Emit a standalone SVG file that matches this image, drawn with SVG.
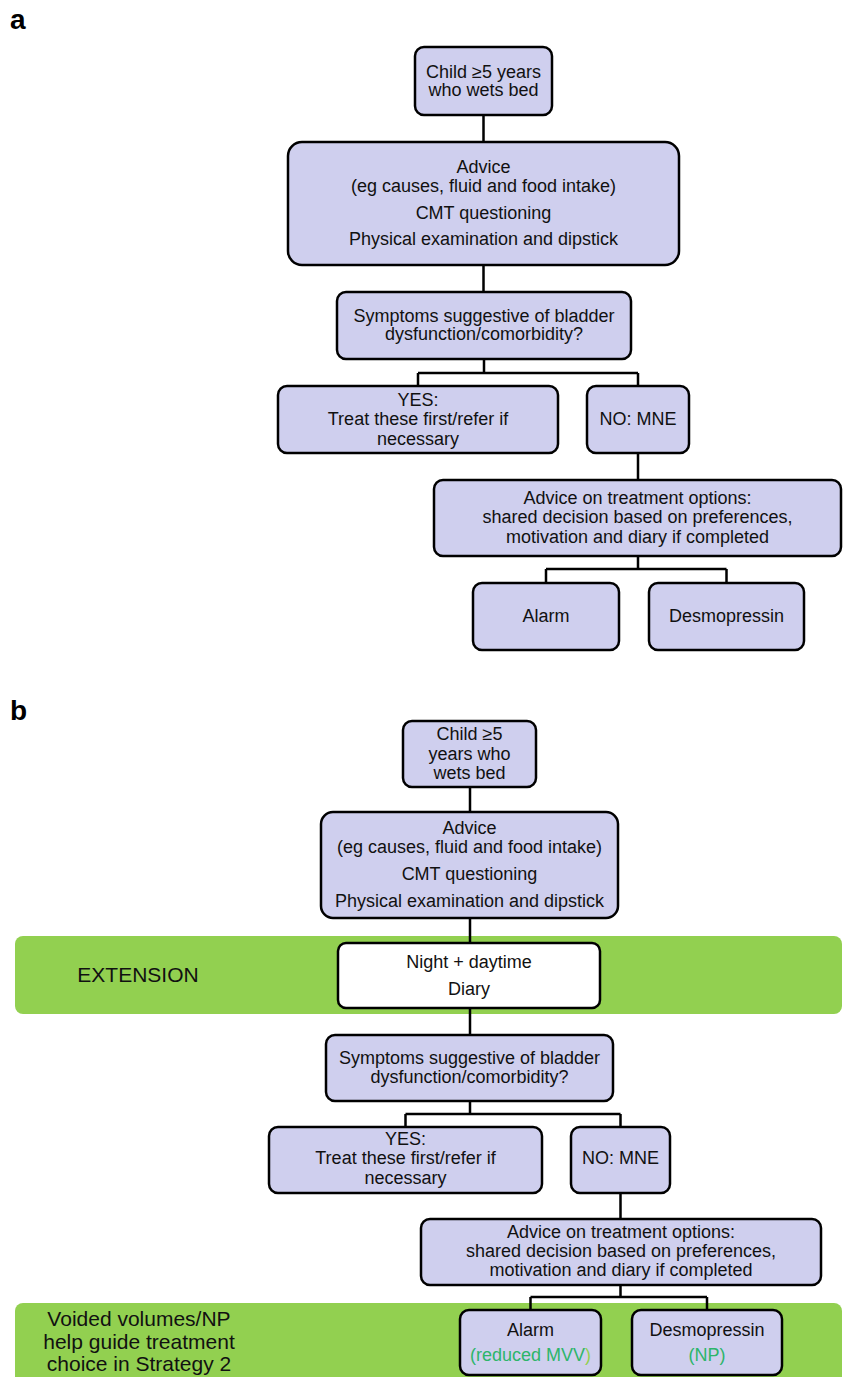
<svg xmlns="http://www.w3.org/2000/svg" width="843" height="1377" viewBox="0 0 843 1377">
<style>
.bx{fill:#cfcfee;stroke:#000;stroke-width:2.5}
.wb{fill:#fff;stroke:#000;stroke-width:2.5}
.band{fill:#92d050}
.t{font-family:"Liberation Sans",Arial,sans-serif;font-size:18px;fill:#111;text-anchor:middle}
.lbl{font-family:"Liberation Sans",Arial,sans-serif;font-size:21px;fill:#111;text-anchor:middle}
.pl{font-family:"Liberation Sans",Arial,sans-serif;font-size:28px;font-weight:bold;fill:#000}
.g{fill:#2db56a}
.lg{fill:#92d050}
.c{fill:none;stroke:#000;stroke-width:2.5}
</style>
<rect width="843" height="1377" fill="#fff"/>
<text class="pl" x="10" y="29">a</text>
<text class="pl" x="10" y="720">b</text>
<g id="bands">
<rect class="band" x="15" y="936" width="827" height="78" rx="8"/>
<rect class="band" x="15" y="1303" width="827" height="84" rx="8"/>
<text class="lbl" x="138" y="982">EXTENSION</text>
<text class="lbl" x="139" y="1326">Voided volumes/NP</text>
<text class="lbl" x="139" y="1349">help guide treatment</text>
<text class="lbl" x="139" y="1371">choice in Strategy 2</text>
</g>
<g id="connectors">
<path class="c" d="M483.5 115V142M483.5 265V292M484 359V373M418 373H638M418 373V386M638 373V386M638 453V480M638 556V569M546 569H726.5M546 569V583M726.5 569V583"/>
<path class="c" d="M470 787V812M470 918V943M470 1008V1035M470 1101V1114M405.5 1114H620.5M405.5 1114V1127M620.5 1114V1127M620.5 1193V1219M620.5 1285V1297M530.5 1297H707M530.5 1297V1310M707 1297V1310"/>
</g>
<g id="a_child"><rect class="bx" x="415" y="47" width="137" height="68" rx="9"/>
<text class="t" x="483.5" y="78">Child ≥5 years</text><text class="t" x="483.5" y="96">who wets bed</text></g>
<g id="a_advice"><rect class="bx" x="288" y="142" width="391" height="123" rx="14"/>
<text class="t" x="483.5" y="173">Advice</text><text class="t" x="483.5" y="192">(eg causes, fluid and food intake)</text>
<text class="t" x="483.5" y="219">CMT questioning</text><text class="t" x="483.5" y="245">Physical examination and dipstick</text></g>
<g id="a_symptoms"><rect class="bx" x="337" y="292" width="294" height="67" rx="9"/>
<text class="t" x="484" y="322">Symptoms suggestive of bladder</text><text class="t" x="484" y="340">dysfunction/comorbidity?</text></g>
<g id="a_yes"><rect class="bx" x="278" y="386" width="280" height="67" rx="9"/>
<text class="t" x="418" y="406">YES:</text><text class="t" x="418" y="425">Treat these first/refer if</text><text class="t" x="418" y="445">necessary</text></g>
<g id="a_no"><rect class="bx" x="587" y="386" width="102" height="67" rx="9"/>
<text class="t" x="638" y="425">NO: MNE</text></g>
<g id="a_options"><rect class="bx" x="434" y="480" width="407" height="76" rx="9"/>
<text class="t" x="637.5" y="504">Advice on treatment options:</text><text class="t" x="637.5" y="523">shared decision based on preferences,</text><text class="t" x="637.5" y="543">motivation and diary if completed</text></g>
<g id="a_alarm"><rect class="bx" x="473" y="583" width="146" height="67" rx="9"/>
<text class="t" x="546" y="622">Alarm</text></g>
<g id="a_desmo"><rect class="bx" x="649" y="583" width="155" height="67" rx="9"/>
<text class="t" x="726.5" y="622">Desmopressin</text></g>

<g id="b_child"><rect class="bx" x="403" y="721" width="133" height="66" rx="9"/>
<text class="t" x="469.5" y="740">Child ≥5</text><text class="t" x="469.5" y="760">years who</text><text class="t" x="469.5" y="779">wets bed</text></g>
<g id="b_advice"><rect class="bx" x="321" y="812" width="297" height="106" rx="12"/>
<text class="t" x="469.5" y="834">Advice</text><text class="t" x="469.5" y="853">(eg causes, fluid and food intake)</text>
<text class="t" x="469.5" y="880">CMT questioning</text><text class="t" x="469.5" y="907">Physical examination and dipstick</text></g>
<g id="b_diary"><rect class="wb" x="338" y="943" width="262" height="65" rx="8"/>
<text class="t" x="469" y="968">Night + daytime</text><text class="t" x="469" y="995">Diary</text></g>
<g id="b_symptoms"><rect class="bx" x="326" y="1035" width="287" height="66" rx="9"/>
<text class="t" x="469.5" y="1064">Symptoms suggestive of bladder</text><text class="t" x="469.5" y="1083">dysfunction/comorbidity?</text></g>
<g id="b_yes"><rect class="bx" x="269" y="1127" width="273" height="66" rx="9"/>
<text class="t" x="405.5" y="1145">YES:</text><text class="t" x="405.5" y="1164">Treat these first/refer if</text><text class="t" x="405.5" y="1184">necessary</text></g>
<g id="b_no"><rect class="bx" x="571" y="1127" width="99" height="66" rx="9"/>
<text class="t" x="620.5" y="1164">NO: MNE</text></g>
<g id="b_options"><rect class="bx" x="421" y="1219" width="400" height="66" rx="9"/>
<text class="t" x="621" y="1238">Advice on treatment options:</text><text class="t" x="621" y="1257">shared decision based on preferences,</text><text class="t" x="621" y="1276">motivation and diary if completed</text></g>
<g id="b_alarm"><rect class="bx" x="460" y="1310" width="141" height="65" rx="9"/>
<text class="t" x="530.5" y="1336">Alarm</text><text class="t g" x="530.5" y="1361">(reduced MVV<tspan class="lg">)</tspan></text></g>
<g id="b_desmo"><rect class="bx" x="632" y="1310" width="150" height="65" rx="9"/>
<text class="t" x="707" y="1336">Desmopressin</text><text class="t g" x="707" y="1361">(NP)</text></g>
</svg>
